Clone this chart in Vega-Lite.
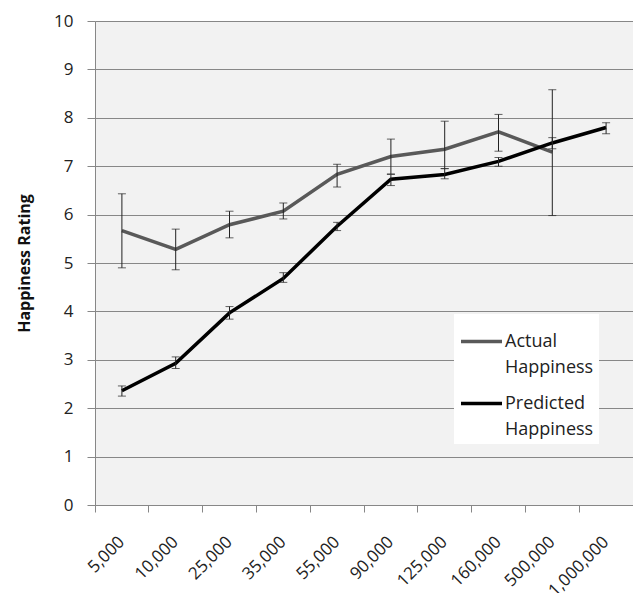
{
  "$schema": "https://vega.github.io/schema/vega-lite/v6.json",
  "width": 538,
  "height": 484,
  "autosize": {"type": "none"},
  "padding": {"left": 95, "top": 21, "right": 0, "bottom": 88},
  "background": "white",
  "config": {"view": {"fill": "#f2f2f2", "stroke": null}, "font": "Open Sans"},
  "data": {"values": [
    {"income": "5,000", "series": "Actual Happiness", "rating": 5.67, "lo": 4.90, "hi": 6.43},
    {"income": "10,000", "series": "Actual Happiness", "rating": 5.28, "lo": 4.86, "hi": 5.70},
    {"income": "25,000", "series": "Actual Happiness", "rating": 5.79, "lo": 5.52, "hi": 6.07},
    {"income": "35,000", "series": "Actual Happiness", "rating": 6.07, "lo": 5.91, "hi": 6.24},
    {"income": "55,000", "series": "Actual Happiness", "rating": 6.83, "lo": 6.57, "hi": 7.04},
    {"income": "90,000", "series": "Actual Happiness", "rating": 7.20, "lo": 6.84, "hi": 7.56},
    {"income": "125,000", "series": "Actual Happiness", "rating": 7.35, "lo": 6.95, "hi": 7.93},
    {"income": "160,000", "series": "Actual Happiness", "rating": 7.71, "lo": 7.31, "hi": 8.07},
    {"income": "500,000", "series": "Actual Happiness", "rating": 7.29, "lo": 5.98, "hi": 8.58},
    {"income": "5,000", "series": "Predicted Happiness", "rating": 2.36, "lo": 2.25, "hi": 2.46},
    {"income": "10,000", "series": "Predicted Happiness", "rating": 2.93, "lo": 2.82, "hi": 3.06},
    {"income": "25,000", "series": "Predicted Happiness", "rating": 3.97, "lo": 3.84, "hi": 4.10},
    {"income": "35,000", "series": "Predicted Happiness", "rating": 4.68, "lo": 4.60, "hi": 4.80},
    {"income": "55,000", "series": "Predicted Happiness", "rating": 5.76, "lo": 5.67, "hi": 5.84},
    {"income": "90,000", "series": "Predicted Happiness", "rating": 6.73, "lo": 6.60, "hi": 6.83},
    {"income": "125,000", "series": "Predicted Happiness", "rating": 6.83, "lo": 6.74, "hi": 6.95},
    {"income": "160,000", "series": "Predicted Happiness", "rating": 7.10, "lo": 7.00, "hi": 7.18},
    {"income": "500,000", "series": "Predicted Happiness", "rating": 7.48, "lo": 7.36, "hi": 7.59},
    {"income": "1,000,000", "series": "Predicted Happiness", "rating": 7.80, "lo": 7.67, "hi": 7.90}
  ]},
  "encoding": {
    "x": {
      "field": "income",
      "type": "nominal",
      "sort": ["5,000", "10,000", "25,000", "35,000", "55,000", "90,000", "125,000", "160,000", "500,000", "1,000,000"],
      "scale": {"type": "band", "paddingInner": 0, "paddingOuter": 0},
      "axis": {
        "title": null,
        "bandPosition": 0,
        "labelAngle": -45,
        "labelAlign": "right",
        "labelBaseline": "middle",
        "labelFontSize": 17,
        "labelPadding": 27,
        "labelColor": "#222222",
        "tickSize": 7,
        "tickColor": "#878787",
        "domainColor": "#878787",
        "grid": false
      }
    }
  },
  "layer": [
    {
      "mark": {"type": "line", "strokeWidth": 3.5},
      "encoding": {
        "y": {
          "field": "rating",
          "type": "quantitative",
          "scale": {"domain": [0, 10], "nice": false},
          "axis": {
            "title": "Happiness Rating",
            "values": [0, 1, 2, 3, 4, 5, 6, 7, 8, 9, 10],
            "grid": true,
            "gridColor": "#878787",
            "domainColor": "#878787",
            "tickColor": "#878787",
            "tickSize": 8,
            "labelPadding": 14,
            "labelFontSize": 17,
            "labelColor": "#222222",
            "labelFlush": false,
            "titleFontSize": 16,
            "titleFontWeight": "bold",
            "titleColor": "#111111",
            "titlePadding": 21
          }
        },
        "color": {
          "field": "series",
          "type": "nominal",
          "scale": {"domain": ["Actual Happiness", "Predicted Happiness"], "range": ["#595959", "#000000"]},
          "legend": {
            "orient": "none",
            "legendX": 359,
            "legendY": 293,
            "title": null,
            "symbolType": "stroke",
            "symbolSize": 1681,
            "symbolStrokeWidth": 3.5,
            "labelFontSize": 18,
            "labelFont": "Open Sans",
            "labelColor": "#222222",
            "labelExpr": "split(datum.label, ' ')",
            "labelLimit": 200,
            "labelOffset": 1,
            "labelBaseline": "middle",
            "fillColor": "white",
            "padding": 5,
            "rowPadding": 4,
            "encode": {"labels": {"update": {"lineHeight": {"value": 26}}}}
          }
        }
      }
    },
    {
      "mark": {"type": "rule", "color": "#222222", "strokeWidth": 1},
      "encoding": {
        "y": {"field": "lo", "type": "quantitative", "title": "Happiness Rating"},
        "y2": {"field": "hi"}
      }
    },
    {
      "mark": {"type": "tick", "color": "#222222", "size": 8, "thickness": 1},
      "encoding": {"y": {"field": "lo", "type": "quantitative", "title": "Happiness Rating"}}
    },
    {
      "mark": {"type": "tick", "color": "#222222", "size": 8, "thickness": 1},
      "encoding": {"y": {"field": "hi", "type": "quantitative", "title": "Happiness Rating"}}
    }
  ]
}
